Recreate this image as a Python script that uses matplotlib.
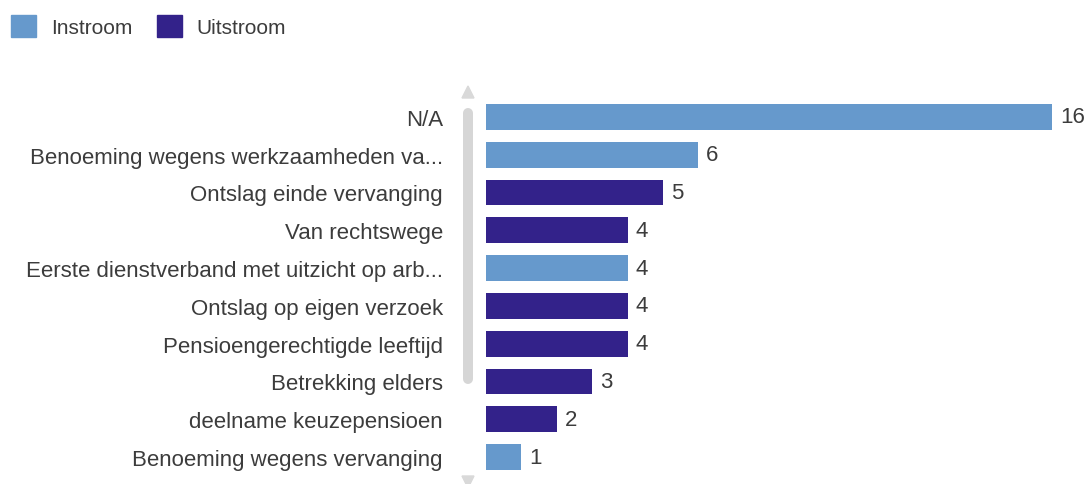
import matplotlib
matplotlib.use("Agg")
import matplotlib.pyplot as plt
from matplotlib.patches import Patch, Polygon
from matplotlib.lines import Line2D

plt.rcParams['font.family'] = ['Liberation Sans', 'DejaVu Sans']

# data
categories = [
    "N/A",
    "Benoeming wegens werkzaamheden va...",
    "Ontslag einde vervanging",
    "Van rechtswege",
    "Eerste dienstverband met uitzicht op arb...",
    "Ontslag op eigen verzoek",
    "Pensioengerechtigde leeftijd",
    "Betrekking elders",
    "deelname keuzepensioen",
    "Benoeming wegens vervanging",
]
values = [16, 6, 5, 4, 4, 4, 4, 3, 2, 1]
groups = ["Instroom", "Instroom", "Uitstroom", "Uitstroom", "Instroom",
          "Uitstroom", "Uitstroom", "Uitstroom", "Uitstroom", "Instroom"]

colors = {"Instroom": "#6699cc", "Uitstroom": "#33228a"}
text_color = "#3c3c3c"

fig = plt.figure(figsize=(10.87, 4.85), dpi=100)
W, H = 1087, 485
ax = fig.add_axes([486 / W, 1 - 477 / H, (1052 - 486) / W, (477 - 99) / H])

ypos = list(range(len(categories)))
ax.barh(ypos, values, height=0.68, color=[colors[g] for g in groups])
ax.set_xlim(0, 16)
ax.set_ylim(len(categories) - 0.5, -0.5)

for y, v in zip(ypos, values):
    ax.text(v + 0.22, y, str(v), va="center", ha="left", fontsize=16, color=text_color)

ax.set_yticks(ypos)
ax.set_yticklabels(categories, fontsize=16, color=text_color)
ax.tick_params(axis="y", length=0, pad=31)
ax.set_xticks([])
for s in ax.spines.values():
    s.set_visible(False)

# scrollbar
fig.add_artist(Line2D([468 / W, 468 / W], [1 - 114 / H, 1 - 380 / H], transform=fig.transFigure,
                      color="#d6d6d6", linewidth=7.2, solid_capstyle="round"))
fig.add_artist(Polygon([(462 / W, 1 - 99 / H), (474 / W, 1 - 99 / H), (468 / W, 1 - 87 / H)],
                       closed=True, transform=fig.transFigure, color="#d9d9d9"))
fig.add_artist(Polygon([(462 / W, 1 - 477 / H), (474 / W, 1 - 477 / H), (468 / W, 1 - 489 / H)],
                       closed=True, transform=fig.transFigure, color="#d9d9d9"))

# legend
handles = [Patch(facecolor=colors[k], edgecolor=colors[k]) for k in ["Instroom", "Uitstroom"]]
leg = fig.legend(handles, ["Instroom", "Uitstroom"], loc="center left",
                 bbox_to_anchor=(3 / W, 1 - 27 / H), ncol=2, frameon=False,
                 fontsize=15, handlelength=1.2, handleheight=1.2,
                 handletextpad=0.7, columnspacing=1.2, borderaxespad=0)
for t in leg.get_texts():
    t.set_color(text_color)

fig.savefig("out.png", dpi=100)
